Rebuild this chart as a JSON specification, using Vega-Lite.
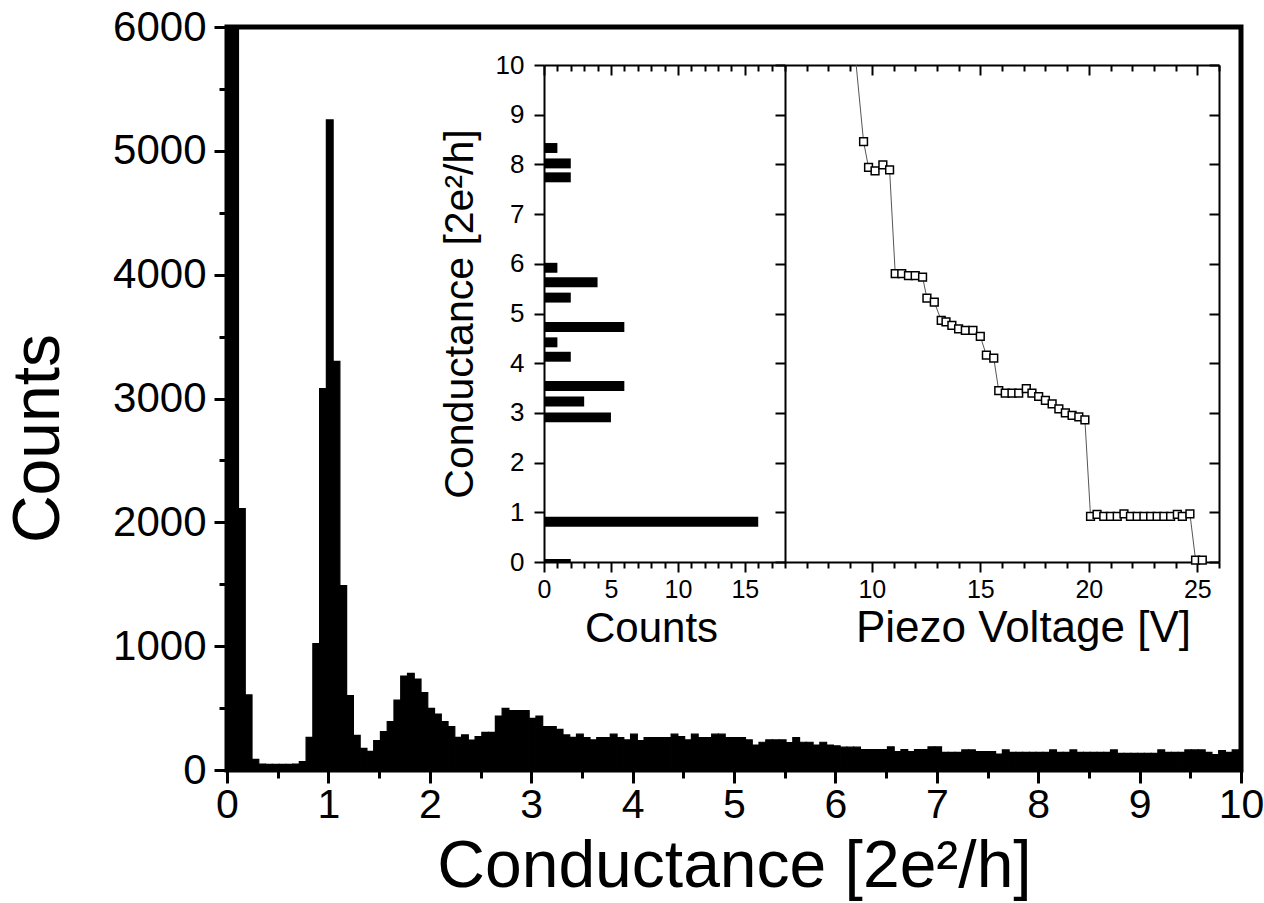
{
  "$schema": "https://vega.github.io/schema/vega-lite/v6.json",
  "width": 1014,
  "height": 743,
  "autosize": {"type": "none"},
  "padding": {"left": 227, "top": 27, "right": 23, "bottom": 133},
  "background": "white",
  "config": {
    "font": "Liberation Sans",
    "view": {"stroke": "black", "strokeWidth": 5},
    "axis": {
      "grid": false,
      "labelColor": "black",
      "titleColor": "black",
      "tickColor": "black",
      "domainColor": "black",
      "titleFontWeight": "normal",
      "labelFont": "Liberation Sans",
      "titleFont": "Liberation Sans",
      "labelOverlap": false,
      "labelFlush": false,
      "labelBound": false
    }
  },
  "datasets": {
    "hist": [
      {"g": -0.025, "c": 9000}, {"g": 0.0417, "c": 9000}, {"g": 0.1083, "c": 2110}, {"g": 0.175, "c": 606}, {"g": 0.2417, "c": 86},
      {"g": 0.3083, "c": 48}, {"g": 0.375, "c": 45}, {"g": 0.4417, "c": 45}, {"g": 0.5083, "c": 45}, {"g": 0.575, "c": 45},
      {"g": 0.6417, "c": 48}, {"g": 0.7083, "c": 67}, {"g": 0.775, "c": 264}, {"g": 0.8417, "c": 1020}, {"g": 0.9083, "c": 3080},
      {"g": 0.975, "c": 5250}, {"g": 1.0417, "c": 3300}, {"g": 1.1083, "c": 1490}, {"g": 1.175, "c": 600}, {"g": 1.2417, "c": 280},
      {"g": 1.3083, "c": 175}, {"g": 1.375, "c": 150}, {"g": 1.4417, "c": 237}, {"g": 1.5083, "c": 310}, {"g": 1.575, "c": 390},
      {"g": 1.6417, "c": 565}, {"g": 1.7083, "c": 759}, {"g": 1.775, "c": 780}, {"g": 1.8417, "c": 735}, {"g": 1.9083, "c": 625},
      {"g": 1.975, "c": 498}, {"g": 2.0417, "c": 452}, {"g": 2.1083, "c": 390}, {"g": 2.175, "c": 350}, {"g": 2.2417, "c": 264},
      {"g": 2.3083, "c": 283}, {"g": 2.375, "c": 242}, {"g": 2.4417, "c": 269}, {"g": 2.5083, "c": 304}, {"g": 2.575, "c": 304},
      {"g": 2.6417, "c": 436}, {"g": 2.7083, "c": 498}, {"g": 2.775, "c": 479}, {"g": 2.8417, "c": 479}, {"g": 2.9083, "c": 479},
      {"g": 2.975, "c": 417}, {"g": 3.0417, "c": 436}, {"g": 3.1083, "c": 350}, {"g": 3.175, "c": 350}, {"g": 3.2417, "c": 328},
      {"g": 3.3083, "c": 283}, {"g": 3.375, "c": 264}, {"g": 3.4417, "c": 289}, {"g": 3.5083, "c": 262}, {"g": 3.575, "c": 243},
      {"g": 3.6417, "c": 262}, {"g": 3.7083, "c": 262}, {"g": 3.775, "c": 289}, {"g": 3.8417, "c": 262}, {"g": 3.9083, "c": 243},
      {"g": 3.975, "c": 289}, {"g": 4.0417, "c": 237}, {"g": 4.1083, "c": 262}, {"g": 4.175, "c": 262}, {"g": 4.2417, "c": 262},
      {"g": 4.3083, "c": 262}, {"g": 4.375, "c": 289}, {"g": 4.4417, "c": 270}, {"g": 4.5083, "c": 243}, {"g": 4.575, "c": 289},
      {"g": 4.6417, "c": 262}, {"g": 4.7083, "c": 262}, {"g": 4.775, "c": 289}, {"g": 4.8417, "c": 289}, {"g": 4.9083, "c": 262},
      {"g": 4.975, "c": 262}, {"g": 5.0417, "c": 262}, {"g": 5.1083, "c": 243}, {"g": 5.175, "c": 202}, {"g": 5.2417, "c": 224},
      {"g": 5.3083, "c": 243}, {"g": 5.375, "c": 243}, {"g": 5.4417, "c": 243}, {"g": 5.5083, "c": 221}, {"g": 5.575, "c": 262},
      {"g": 5.6417, "c": 224}, {"g": 5.7083, "c": 224}, {"g": 5.775, "c": 202}, {"g": 5.8417, "c": 224}, {"g": 5.9083, "c": 202},
      {"g": 5.975, "c": 195}, {"g": 6.0417, "c": 184}, {"g": 6.1083, "c": 184}, {"g": 6.175, "c": 184}, {"g": 6.2417, "c": 165},
      {"g": 6.3083, "c": 165}, {"g": 6.375, "c": 165}, {"g": 6.4417, "c": 165}, {"g": 6.5083, "c": 187}, {"g": 6.575, "c": 148},
      {"g": 6.6417, "c": 165}, {"g": 6.7083, "c": 148}, {"g": 6.775, "c": 165}, {"g": 6.8417, "c": 165}, {"g": 6.9083, "c": 187},
      {"g": 6.975, "c": 187}, {"g": 7.0417, "c": 143}, {"g": 7.1083, "c": 143}, {"g": 7.175, "c": 143}, {"g": 7.2417, "c": 162},
      {"g": 7.3083, "c": 162}, {"g": 7.375, "c": 148}, {"g": 7.4417, "c": 148}, {"g": 7.5083, "c": 148}, {"g": 7.575, "c": 129},
      {"g": 7.6417, "c": 162}, {"g": 7.7083, "c": 143}, {"g": 7.775, "c": 143}, {"g": 7.8417, "c": 143}, {"g": 7.9083, "c": 143},
      {"g": 7.975, "c": 143}, {"g": 8.0417, "c": 143}, {"g": 8.1083, "c": 162}, {"g": 8.175, "c": 143}, {"g": 8.2417, "c": 143},
      {"g": 8.3083, "c": 162}, {"g": 8.375, "c": 143}, {"g": 8.4417, "c": 143}, {"g": 8.5083, "c": 143}, {"g": 8.575, "c": 143},
      {"g": 8.6417, "c": 143}, {"g": 8.7083, "c": 162}, {"g": 8.775, "c": 135}, {"g": 8.8417, "c": 135}, {"g": 8.9083, "c": 135},
      {"g": 8.975, "c": 135}, {"g": 9.0417, "c": 135}, {"g": 9.1083, "c": 135}, {"g": 9.175, "c": 162}, {"g": 9.2417, "c": 143},
      {"g": 9.3083, "c": 143}, {"g": 9.375, "c": 143}, {"g": 9.4417, "c": 162}, {"g": 9.5083, "c": 162}, {"g": 9.575, "c": 162},
      {"g": 9.6417, "c": 143}, {"g": 9.7083, "c": 124}, {"g": 9.775, "c": 156}, {"g": 9.8417, "c": 143}, {"g": 9.9083, "c": 162},
      {"g": 9.975, "c": 162}
    ],
    "inset": [
      {"G0": 8.24, "n": 1}, {"G0": 7.93, "n": 2}, {"G0": 7.65, "n": 2},
      {"G0": 5.83, "n": 1}, {"G0": 5.54, "n": 4}, {"G0": 5.23, "n": 2},
      {"G0": 4.64, "n": 6}, {"G0": 4.33, "n": 1}, {"G0": 4.04, "n": 2},
      {"G0": 3.45, "n": 6}, {"G0": 3.14, "n": 3}, {"G0": 2.82, "n": 5},
      {"G0": 0.72, "n": 16}, {"G0": -0.13, "n": 2}
    ],
    "trace": [
      {"V": 9.28, "G": 10.0}, {"V": 9.62, "G": 8.46}, {"V": 9.85, "G": 7.94}, {"V": 10.15, "G": 7.87}, {"V": 10.51, "G": 7.99},
      {"V": 10.82, "G": 7.89}, {"V": 11.08, "G": 5.8}, {"V": 11.38, "G": 5.8}, {"V": 11.69, "G": 5.76}, {"V": 12.0, "G": 5.76},
      {"V": 12.34, "G": 5.73}, {"V": 12.54, "G": 5.31}, {"V": 12.88, "G": 5.23}, {"V": 13.2, "G": 4.86}, {"V": 13.42, "G": 4.83},
      {"V": 13.69, "G": 4.76}, {"V": 14.0, "G": 4.69}, {"V": 14.31, "G": 4.66}, {"V": 14.66, "G": 4.66}, {"V": 15.0, "G": 4.54},
      {"V": 15.28, "G": 4.16}, {"V": 15.62, "G": 4.1}, {"V": 15.85, "G": 3.45}, {"V": 16.15, "G": 3.4}, {"V": 16.46, "G": 3.4},
      {"V": 16.77, "G": 3.4}, {"V": 17.12, "G": 3.49}, {"V": 17.38, "G": 3.4}, {"V": 17.69, "G": 3.33}, {"V": 18.0, "G": 3.25},
      {"V": 18.31, "G": 3.18}, {"V": 18.62, "G": 3.08}, {"V": 18.92, "G": 3.0}, {"V": 19.23, "G": 2.95}, {"V": 19.54, "G": 2.92},
      {"V": 19.82, "G": 2.86}, {"V": 20.08, "G": 0.92}, {"V": 20.38, "G": 0.96}, {"V": 20.69, "G": 0.92}, {"V": 21.0, "G": 0.92},
      {"V": 21.31, "G": 0.92}, {"V": 21.62, "G": 0.97}, {"V": 21.92, "G": 0.92}, {"V": 22.23, "G": 0.92}, {"V": 22.54, "G": 0.92},
      {"V": 22.85, "G": 0.92}, {"V": 23.15, "G": 0.92}, {"V": 23.46, "G": 0.92}, {"V": 23.77, "G": 0.92}, {"V": 24.08, "G": 0.96},
      {"V": 24.31, "G": 0.92}, {"V": 24.66, "G": 0.97}, {"V": 24.92, "G": 0.04}, {"V": 25.23, "G": 0.04}
    ]
  },
  "layer": [
    {
      "data": {"name": "hist"},
      "mark": {"type": "bar", "color": "black", "stroke": "black", "strokeWidth": 1.2, "binSpacing": 0, "clip": true},
      "encoding": {
        "x": {
          "field": "g", "type": "quantitative",
          "bin": {"binned": true, "step": 0.0666667},
          "scale": {"domain": [0, 10], "nice": false, "zero": false},
          "axis": {
            "orient": "bottom",
            "values": [0, 0.5, 1, 1.5, 2, 2.5, 3, 3.5, 4, 4.5, 5, 5.5, 6, 6.5, 7, 7.5, 8, 8.5, 9, 9.5, 10],
            "labelExpr": "datum.value % 1 === 0 ? '' + datum.value : ''",
            "domain": false,
            "tickSize": {"condition": {"test": "datum.value % 1 === 0", "value": 13}, "value": 8},
            "tickWidth": 3,
            "labelFontSize": 41,
            "labelPadding": 2,
            "title": "Conductance [2e²/h]",
            "titleFontSize": 66,
            "titlePadding": 9
          }
        },
        "y": {
          "field": "c", "type": "quantitative",
          "scale": {"domain": [0, 6000], "nice": false},
          "axis": {
            "orient": "left",
            "values": [0, 500, 1000, 1500, 2000, 2500, 3000, 3500, 4000, 4500, 5000, 5500, 6000],
            "labelExpr": "datum.value % 1000 === 0 ? '' + datum.value : ''",
            "domain": false,
            "tickSize": {"condition": {"test": "datum.value % 1000 === 0", "value": 13}, "value": 8},
            "tickWidth": 3,
            "labelFontSize": 42,
            "labelPadding": 8,
            "title": "Counts",
            "titleFontSize": 66,
            "titlePadding": 40,
            "titleY": 411
          }
        }
      }
    },
    {
      "data": {"name": "inset"},
      "mark": {"type": "bar", "color": "black", "binSpacing": 0},
      "encoding": {
        "y": {
          "field": "G0", "type": "quantitative",
          "bin": {"binned": true, "step": 0.2},
          "scale": {"domain": [0, 10], "range": [535, 38], "nice": false, "zero": false, "clamp": true},
          "axis": {
            "orient": "left", "offset": -317,
            "values": [0, 1, 2, 3, 4, 5, 6, 7, 8, 9, 10],
            "format": "d",
            "tickSize": 10, "tickWidth": 2, "domainWidth": 2,
            "labelFontSize": 26, "labelPadding": 10,
            "title": "Conductance [2e²/h]", "titleFontSize": 41, "titlePadding": 14
          }
        },
        "x": {
          "field": "n", "type": "quantitative",
          "scale": {"domain": [0, 18], "range": [317, 558], "nice": false, "zero": true},
          "axis": {
            "orient": "bottom", "offset": -208,
            "values": [0, 1, 2, 3, 4, 5, 6, 7, 8, 9, 10, 11, 12, 13, 14, 15, 16, 17],
            "labelExpr": "datum.value % 5 === 0 ? '' + datum.value : ''",
            "tickSize": {"condition": {"test": "datum.value % 5 === 0", "value": 10}, "value": 6},
            "tickWidth": 2, "domainWidth": 2,
            "labelFontSize": 25, "labelPadding": 5,
            "title": "Counts", "titleFontSize": 42, "titlePadding": 6, "titleX": 424
          }
        }
      }
    },
    {
      "data": {"name": "inset"},
      "mark": {"type": "bar", "color": "black", "binSpacing": 0, "opacity": 0},
      "encoding": {
        "y": {
          "field": "G0", "type": "quantitative",
          "bin": {"binned": true, "step": 0.2},
          "scale": {"domain": [0, 10], "range": [535, 38], "nice": false, "zero": false, "clamp": true},
          "axis": {
            "orient": "right", "offset": -456,
            "values": [0, 1, 2, 3, 4, 5, 6, 7, 8, 9, 10],
            "tickSize": -10, "tickWidth": 2, "domainWidth": 2,
            "labels": false, "title": null
          }
        },
        "x": {
          "field": "n", "type": "quantitative",
          "scale": {"domain": [0, 18], "range": [317, 558], "nice": false, "zero": true},
          "axis": {
            "orient": "top", "offset": -38,
            "values": [0, 1, 2, 3, 4, 5, 6, 7, 8, 9, 10, 11, 12, 13, 14, 15, 16, 17],
            "tickSize": {"condition": {"test": "datum.value % 5 === 0", "value": -10}, "value": -6},
            "tickWidth": 2, "domainWidth": 2,
            "labels": false, "title": null
          }
        }
      }
    },
    {
      "data": {"name": "trace"},
      "mark": {"type": "line", "color": "#555555", "strokeWidth": 1},
      "encoding": {
        "x": {
          "field": "V", "type": "quantitative",
          "scale": {"domain": [6, 26], "range": [558, 992], "nice": false, "zero": false},
          "axis": {
            "orient": "bottom", "offset": -208,
            "values": [6, 7, 8, 9, 10, 11, 12, 13, 14, 15, 16, 17, 18, 19, 20, 21, 22, 23, 24, 25, 26],
            "labelExpr": "datum.value % 5 === 0 ? '' + datum.value : ''",
            "tickSize": {"condition": {"test": "datum.value % 5 === 0", "value": 10}, "value": 6},
            "tickWidth": 2, "domainWidth": 2,
            "labelFontSize": 25, "labelPadding": 5,
            "title": "Piezo Voltage [V]", "titleFontSize": 44, "titlePadding": 4, "titleX": 796
          }
        },
        "y": {
          "field": "G", "type": "quantitative",
          "scale": {"domain": [0, 10], "range": [535, 38], "nice": false, "zero": false},
          "axis": {
            "orient": "right", "offset": -22,
            "values": [0, 1, 2, 3, 4, 5, 6, 7, 8, 9, 10],
            "tickSize": -10, "tickWidth": 2, "domainWidth": 2,
            "labels": false, "title": null
          }
        }
      }
    },
    {
      "data": {"name": "trace"},
      "transform": [{"filter": "datum.G < 9.99"}],
      "mark": {"type": "point", "shape": "square", "filled": true, "fill": "white", "stroke": "black", "strokeWidth": 1.5, "size": 60, "opacity": 1},
      "encoding": {
        "x": {
          "field": "V", "type": "quantitative",
          "scale": {"domain": [6, 26], "range": [558, 992], "nice": false, "zero": false},
          "axis": {
            "orient": "top", "offset": -38,
            "values": [6, 7, 8, 9, 10, 11, 12, 13, 14, 15, 16, 17, 18, 19, 20, 21, 22, 23, 24, 25, 26],
            "tickSize": {"condition": {"test": "datum.value % 5 === 0", "value": -10}, "value": -6},
            "tickWidth": 2, "domainWidth": 2,
            "labels": false, "title": null
          }
        },
        "y": {
          "field": "G", "type": "quantitative",
          "scale": {"domain": [0, 10], "range": [535, 38], "nice": false, "zero": false},
          "axis": null
        }
      }
    }
  ],
  "resolve": {
    "scale": {"x": "independent", "y": "independent"},
    "axis": {"x": "independent", "y": "independent"}
  }
}
